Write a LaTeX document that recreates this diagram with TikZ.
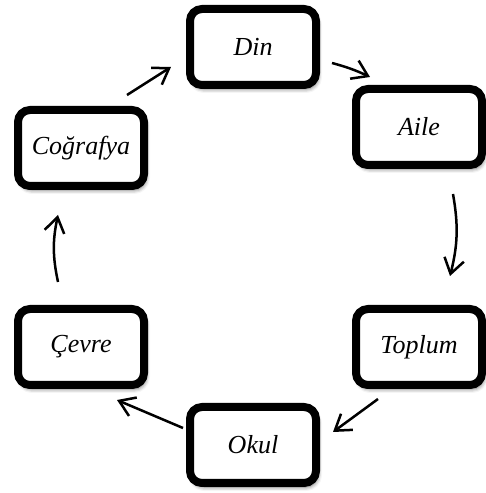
\documentclass[tikz,border=0pt]{standalone}
\usepackage{fontspec}
\setmainfont{Liberation Serif}
\usepackage{tikz}
\usetikzlibrary{positioning}
\usetikzlibrary{arrows.meta,shadows.blur}

\begin{document}
\begin{tikzpicture}[x=1pt, y=1pt,
    kutu/.style={draw, line width=8pt, rounded corners=12pt, fill=white,
      minimum width=126pt, minimum height=76pt, inner sep=0pt,
      font=\fontsize{26}{30}\selectfont\itshape,
      blur shadow={shadow xshift=2pt, shadow yshift=-4pt, shadow blur radius=4pt, shadow opacity=60}},
    ok/.style={line width=2.5pt, -{Straight Barb[length=15pt,width=20pt]}}]
      \useasboundingbox (0,0) rectangle (486,493);
      \node(din) [kutu] at (253,446) {Din};
      \node(cog) [kutu] at (81,345) {Coğrafya};
      \node(cevre) [kutu, below=115pt of cog] {Çevre};
      \node(toplum) [kutu, right=204pt of cevre] {Toplum};
      \node(aile) [kutu, above=136pt of toplum] {Aile};
      \node(okul) [kutu] at (253,48) {Okul};

      \draw[ok] ([shift={(-21,11)}]cog.north east) -- ([shift={(-15,-20)}]din.west);
      \draw[ok] ([shift={(12,-16)}]din.east) to[bend left=5] ([shift={(18,8)}]aile.north west);
      \draw[ok] ([shift={(34,-25)}]aile.south) to[bend left=12] ([shift={(31,29)}]toplum.north);
      \draw[ok] ([shift={(26,-10)}]toplum.south west) -- ([shift={(13,13)}]okul.east);
      \draw[ok] ([shift={(-3,17)}]okul.west) -- ([shift={(36,-11)}]cevre.south);
      \draw[ok] ([shift={(-23,23)}]cevre.north) to[bend left=12] ([shift={(-23,-25)}]cog.south);
    \end{tikzpicture}
\end{document}
